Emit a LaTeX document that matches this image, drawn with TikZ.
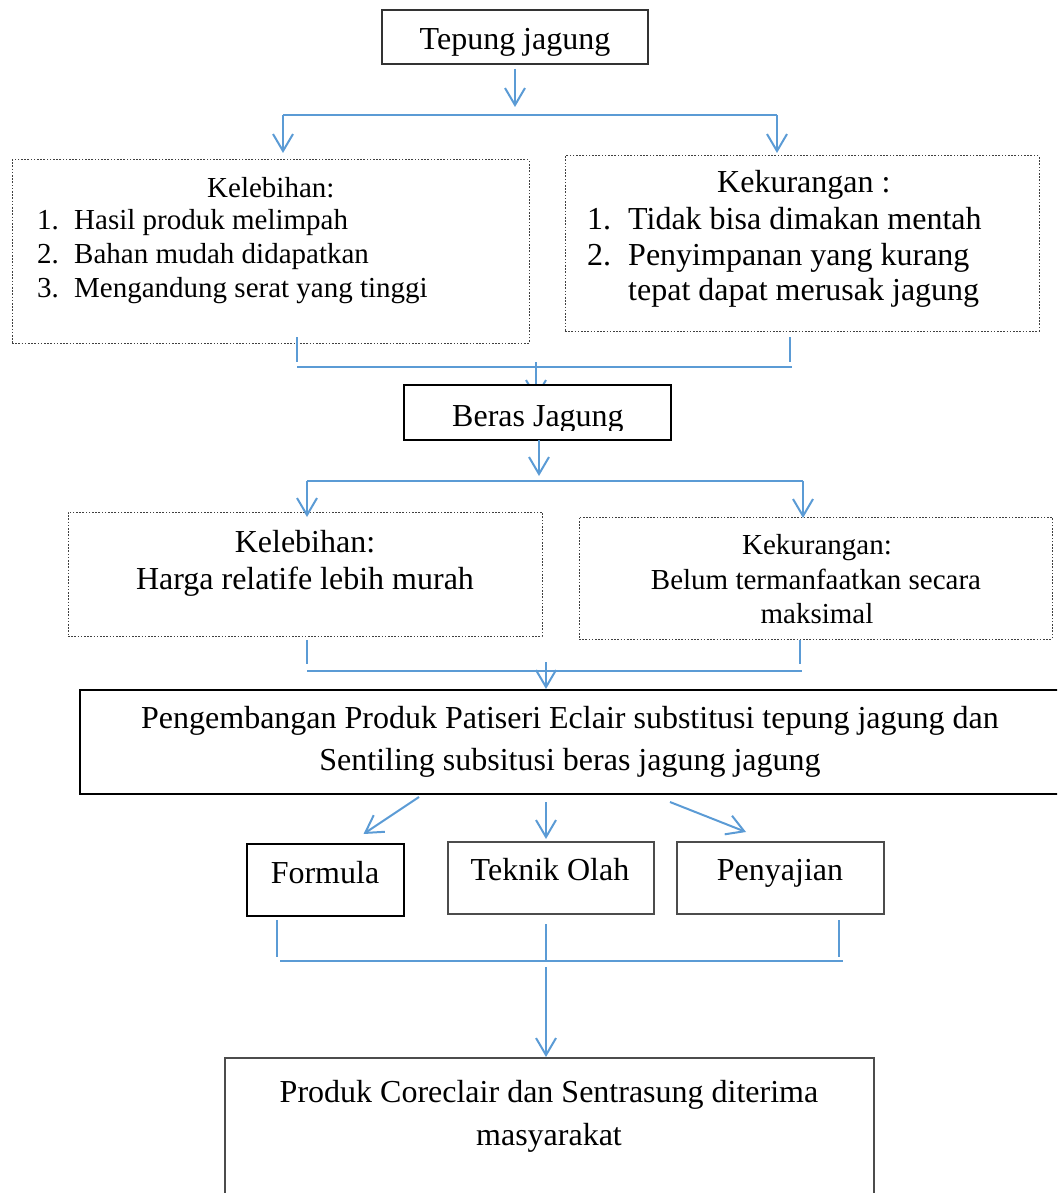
\documentclass[tikz,border=0pt]{standalone}
\usepackage{fontspec}
\setmainfont{Liberation Serif}
\usetikzlibrary{arrows.meta,calc,backgrounds}
\definecolor{conblue}{RGB}{91,155,213}
\begin{document}
\begin{tikzpicture}[x=1pt,y=-1pt,
  conn/.style={draw=conblue,line width=2pt},
  arr/.style={conn,-{Straight Barb[length=17pt,width=20pt]}},
  sbox/.style={draw=black,line width=1.4pt,anchor=north west,inner sep=0pt,outer sep=0pt,fill=white},
  dbox/.style={draw=black!75,line width=1pt,dash pattern=on 1.6pt off 1.6pt,anchor=north west,inner sep=0pt,outer sep=0pt},
  tbig/.style={font=\fontsize{32}{36}\selectfont,inner sep=0pt},
  tsmall/.style={font=\fontsize{29}{34}\selectfont,inner sep=0pt}]
\useasboundingbox (0,0) rectangle (1057,1193);
\clip (0,0) rectangle (1057,1193);

% ---------- Tepung jagung
\node[sbox,draw=black!80,line width=1.3pt,minimum width=266pt,minimum height=54pt] (tep) at (382,10) {};
\node[tbig,anchor=base] (tepT) at (515,50) {Tepung jagung};

% ---------- first pair of boxes
\node[dbox,minimum width=517pt,minimum height=183pt] (kA) at (12,160) {};
\node[tsmall,anchor=base west] (kAh) at (207,197) {Kelebihan:};
\node[tsmall,anchor=base west] (kAn1) at (37,229) {1.};
\node[tsmall,anchor=base west] (kAt1) at (74,229) {Hasil produk melimpah};
\node[tsmall,anchor=base west] (kAn2) at (37,263) {2.};
\node[tsmall,anchor=base west] (kAt2) at (74,263) {Bahan mudah didapatkan};
\node[tsmall,anchor=base west] (kAn3) at (37,297) {3.};
\node[tsmall,anchor=base west] (kAt3) at (74,297) {Mengandung serat yang tinggi};

\node[dbox,minimum width=474pt,minimum height=175pt] (kB) at (565,156) {};
\node[tbig,anchor=base west] (kBh) at (717,193) {Kekurangan :};
\node[tbig,anchor=base west] (kBn1) at (587,229) {1.};
\node[tbig,anchor=base west] (kBt1) at (628,229) {Tidak bisa dimakan mentah};
\node[tbig,anchor=base west] (kBn2) at (587,265) {2.};
\node[tbig,anchor=base west] (kBt2) at (628,265) {Penyimpanan yang kurang};
\node[tbig,anchor=base west] (kBt3) at (628,300) {tepat dapat merusak jagung};

% ---------- Beras Jagung
\node[sbox,minimum width=267pt,minimum height=55pt] (beras) at (404,385) {};
\begin{scope}
\clip (404,386) rectangle (671,430);
\node[tbig,anchor=base west] (berasT) at (452,426) {Beras Jagung};
\end{scope}

% ---------- second pair of boxes
\node[dbox,minimum width=474pt,minimum height=124pt] (kC) at (68,512) {};
\node[tbig,anchor=base] (kCh) at (305,552) {Kelebihan:};
\node[tbig,anchor=base] (kCt) at (305,589) {Harga relatife lebih murah};

\node[dbox,minimum width=473pt,minimum height=122pt] (kD) at (579,517) {};
\node[tsmall,anchor=base] (kDh) at (817,554) {Kekurangan:};
\node[tsmall,anchor=base] (kDt1) at (816,589) {Belum termanfaatkan secara};
\node[tsmall,anchor=base] (kDt2) at (817,623) {maksimal};

% ---------- Pengembangan
\node[sbox,line width=2pt,minimum width=982pt,minimum height=104pt] (dev) at (80,690) {};
\node[tbig,anchor=base] (devT1) at (570,728) {Pengembangan Produk Patiseri Eclair substitusi tepung jagung dan};
\node[tbig,anchor=base] (devT2) at (570,770) {Sentiling subsitusi beras jagung jagung};

% ---------- three aspects
\node[sbox,minimum width=157pt,minimum height=72pt] (form) at (247,844) {};
\node[tbig,anchor=base] (formT) at (325,883) {Formula};
\node[sbox,draw=black!70,minimum width=206pt,minimum height=72pt] (tek) at (448,842) {};
\node[tbig,anchor=base] (tekT) at (550,880) {Teknik Olah};
\node[sbox,draw=black!70,minimum width=207pt,minimum height=72pt] (pen) at (677,842) {};
\node[tbig,anchor=base] (penT) at (780,880) {Penyajian};

% ---------- final
\node[sbox,draw=black!70,minimum width=649pt,minimum height=150pt] (fin) at (225,1058) {};
\node[tbig,anchor=base] (finT1) at (549,1102) {Produk Coreclair dan Sentrasung diterima};
\node[tbig,anchor=base] (finT2) at (549,1145) {masyarakat};

% ---------- junction coordinates
\coordinate (b1l) at (283,115);
\coordinate (b1r) at (777,115);
\coordinate (j1l) at (297,367);
\coordinate (j1r) at (792,367);
\coordinate (s1r) at (790,367);
\coordinate (j1m) at (536,367);
\coordinate (j2l) at (307,481);
\coordinate (j2r) at (803,481);
\coordinate (j2m) at (539,481);
\coordinate (j3l) at (307,671);
\coordinate (j3r) at (802,671);
\coordinate (s3r) at (800,671);
\coordinate (j3m) at (546,671);
\coordinate (j4a) at (280,961);
\coordinate (j4b) at (843,961);
\coordinate (s4l) at (277,961);
\coordinate (s4r) at (839,961);
\coordinate (j4m) at (546,961);

% ---------- connectors, top
\draw[arr,shorten <=5pt,shorten >=8pt] (tep.south) -- (tep.south |- b1l);
\draw[conn] (b1l) -- (b1r);
\draw[arr,shorten >=7pt] (b1l) -- (b1l |- kA.north);
\draw[arr,shorten >=3pt] (b1r) -- (b1r |- kB.north);
\draw[conn,shorten <=-6pt,shorten >=5pt] (kA.south -| j1l) -- (j1l);
\draw[conn,shorten <=6pt,shorten >=5pt] (kB.south -| s1r) -- (s1r);
\draw[conn] (j1l) -- (j1r);
\begin{pgfonlayer}{background}
\draw[arr,shorten <=-5pt,shorten >=-14pt] (j1m) -- (j1m |- beras.north);
\end{pgfonlayer}

% ---------- connectors, middle
\draw[arr,shorten >=5pt] (beras.south -| j2m) -- (j2m);
\draw[conn] (j2l) -- (j2r);
\draw[arr,shorten >=-5pt] (j2l) -- (j2l |- kC.north);
\draw[arr,shorten >=-1pt] (j2r) -- (j2r |- kD.north);
\draw[conn,shorten <=4pt,shorten >=7pt] (kC.south -| j3l) -- (j3l);
\draw[conn,shorten <=1pt,shorten >=7pt] (kD.south -| s3r) -- (s3r);
\draw[conn] (j3l) -- (j3r);
\draw[arr,shorten <=-9pt,shorten >=1pt] (j3m) -- (j3m |- dev.north);

% ---------- connectors, lower
\draw[arr] ($(dev.south)+(-152,3)$) -- ($(form.north)+(38,-10)$);
\draw[arr] ($(dev.south)+(-25,8)$) -- ($(tek.north)+(-5,-3)$);
\draw[arr] ($(dev.south)+(99,8)$) -- ($(pen.north)+(-34.5,-10)$);
\draw[conn,shorten <=4pt,shorten >=4pt] (form.south -| s4l) -- (s4l);
\draw[conn,shorten <=10pt] (tek.south -| j4m) -- (j4m);
\draw[conn,shorten <=6pt,shorten >=4pt] (pen.south -| s4r) -- (s4r);
\draw[conn] (j4a) -- (j4b);
\draw[arr,shorten <=6pt,shorten >=1pt] (j4m) -- (j4m |- fin.north);
\end{tikzpicture}
\end{document}
